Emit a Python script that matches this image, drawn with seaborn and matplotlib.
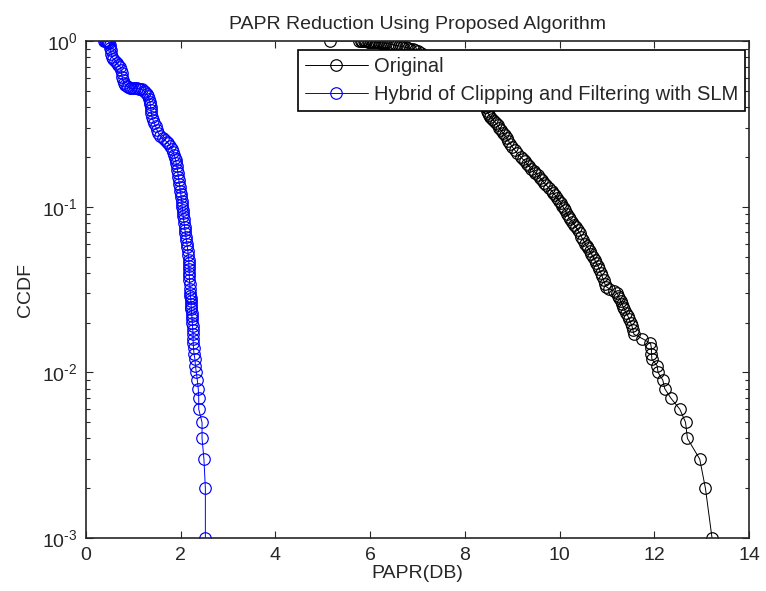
import numpy as np
import pandas as pd
import matplotlib
matplotlib.use("Agg")
import matplotlib.pyplot as plt
import matplotlib.ticker as mticker
import seaborn as sns

# CCDF levels and PAPR (dB) values
orig_ccdf = [1.0, 0.999, 0.998, 0.997, 0.996, 0.995, 0.994, 0.993, 0.992, 0.99,
             0.988, 0.986, 0.984, 0.981, 0.978, 0.975, 0.971, 0.967, 0.963, 0.958,
             0.953, 0.948, 0.942, 0.936, 0.93, 0.923, 0.916, 0.908, 0.90, 0.89,
             0.88, 0.87, 0.85, 0.80, 0.75, 0.70, 0.65, 0.60, 0.55, 0.50,
             0.45, 0.40, 0.38, 0.37, 0.36, 0.35, 0.34, 0.33, 0.32, 0.31,
             0.30, 0.29, 0.28, 0.27, 0.26, 0.25, 0.24, 0.23, 0.22, 0.21,
             0.20, 0.194, 0.188, 0.182, 0.176, 0.170, 0.165, 0.160, 0.155, 0.150,
             0.145, 0.140, 0.135, 0.130, 0.125, 0.121, 0.117, 0.113, 0.109, 0.105,
             0.101, 0.098, 0.095, 0.091, 0.087, 0.084, 0.081, 0.078, 0.075, 0.072,
             0.069, 0.066, 0.063, 0.060, 0.058, 0.056, 0.054, 0.052, 0.050, 0.048,
             0.046, 0.044, 0.042, 0.040, 0.038, 0.036, 0.034, 0.033, 0.032, 0.031,
             0.030, 0.029, 0.028, 0.027, 0.026, 0.025, 0.024, 0.023, 0.022, 0.021,
             0.020, 0.019, 0.018, 0.017, 0.016, 0.015, 0.014, 0.013, 0.012, 0.011,
             0.010, 0.009, 0.008, 0.007, 0.006, 0.005, 0.004, 0.003, 0.002, 0.001]
orig_papr = [5.15, 5.77, 5.80, 5.83, 5.86, 5.89, 5.92, 5.95, 5.98, 6.01,
             6.05, 6.09, 6.13, 6.17, 6.21, 6.25, 6.29, 6.33, 6.37, 6.42,
             6.46, 6.50, 6.55, 6.60, 6.65, 6.70, 6.75, 6.80, 6.85, 6.90,
             6.95, 7.00, 7.08, 7.28, 7.46, 7.62, 7.77, 7.91, 8.04, 8.17,
             8.31, 8.44, 8.46, 8.48, 8.51, 8.54, 8.57, 8.61, 8.65, 8.69,
             8.72, 8.76, 8.80, 8.84, 8.88, 8.92, 8.96, 9.00, 9.05, 9.11,
             9.18, 9.22, 9.27, 9.31, 9.36, 9.40, 9.45, 9.49, 9.54, 9.58,
             9.63, 9.67, 9.72, 9.77, 9.83, 9.87, 9.91, 9.95, 9.99, 10.03,
             10.06, 10.09, 10.12, 10.15, 10.19, 10.23, 10.27, 10.31, 10.35, 10.39,
             10.43, 10.46, 10.50, 10.54, 10.57, 10.61, 10.64, 10.67, 10.71, 10.74,
             10.77, 10.81, 10.84, 10.87, 10.90, 10.93, 10.96, 10.98, 11.05, 11.15,
             11.22, 11.24, 11.26, 11.29, 11.31, 11.34, 11.37, 11.40, 11.44, 11.47,
             11.50, 11.53, 11.55, 11.57, 11.75, 11.92, 11.94, 11.94, 11.95, 12.06,
             12.08, 12.18, 12.22, 12.35, 12.54, 12.66, 12.70, 12.96, 13.08, 13.22]

hybrid_ccdf = [1.0, 0.999, 0.998, 0.997, 0.995, 0.993, 0.99, 0.97, 0.94, 0.91,
               0.88, 0.84, 0.80, 0.78, 0.76, 0.74, 0.72, 0.70, 0.67, 0.64,
               0.61, 0.58, 0.56, 0.545, 0.535, 0.527, 0.521, 0.519, 0.518, 0.518,
               0.518, 0.517, 0.515, 0.51, 0.50, 0.49, 0.48, 0.465, 0.445, 0.43,
               0.415, 0.40, 0.385, 0.37, 0.35, 0.335, 0.32, 0.305, 0.29, 0.277,
               0.268, 0.26, 0.252, 0.245, 0.241, 0.232, 0.223, 0.214, 0.205, 0.198,
               0.191, 0.183, 0.175, 0.167, 0.16, 0.152, 0.145, 0.138, 0.131, 0.125,
               0.119, 0.114, 0.109, 0.104, 0.10, 0.096, 0.092, 0.088, 0.084, 0.080,
               0.076, 0.072, 0.069, 0.066, 0.063, 0.060, 0.057, 0.054, 0.051, 0.048,
               0.046, 0.044, 0.042, 0.040, 0.038, 0.036, 0.034, 0.032, 0.030, 0.029,
               0.028, 0.027, 0.026, 0.025, 0.024, 0.023, 0.022, 0.021, 0.020, 0.019,
               0.018, 0.017, 0.016, 0.015, 0.014, 0.013, 0.012, 0.011, 0.010, 0.009,
               0.008, 0.007, 0.006, 0.005, 0.004, 0.003, 0.002, 0.001]
hybrid_papr = [0.38, 0.40, 0.42, 0.43, 0.45, 0.46, 0.47, 0.49, 0.50, 0.51,
               0.52, 0.53, 0.55, 0.58, 0.62, 0.65, 0.68, 0.72, 0.74, 0.75,
               0.76, 0.78, 0.80, 0.83, 0.86, 0.89, 0.92, 0.95, 0.99, 1.03,
               1.07, 1.11, 1.14, 1.18, 1.22, 1.25, 1.28, 1.31, 1.33, 1.345,
               1.355, 1.365, 1.37, 1.38, 1.39, 1.41, 1.44, 1.47, 1.50, 1.53,
               1.57, 1.62, 1.67, 1.71, 1.74, 1.78, 1.81, 1.84, 1.86, 1.88,
               1.89, 1.905, 1.92, 1.93, 1.94, 1.95, 1.96, 1.97, 1.98, 1.99,
               2.00, 2.01, 2.02, 2.025, 2.03, 2.04, 2.045, 2.05, 2.06, 2.07,
               2.08, 2.09, 2.10, 2.11, 2.12, 2.13, 2.14, 2.15, 2.16, 2.17,
               2.17, 2.17, 2.175, 2.18, 2.18, 2.185, 2.19, 2.195, 2.20, 2.205,
               2.21, 2.215, 2.22, 2.22, 2.225, 2.23, 2.235, 2.24, 2.245, 2.25,
               2.255, 2.26, 2.26, 2.265, 2.27, 2.28, 2.30, 2.31, 2.33, 2.35,
               2.37, 2.38, 2.38, 2.45, 2.45, 2.49, 2.52, 2.52]

orig = pd.DataFrame({"papr": orig_papr, "ccdf": orig_ccdf})
hybrid = pd.DataFrame({"papr": hybrid_papr, "ccdf": hybrid_ccdf})

sns.set_style("ticks")
plt.rcParams["font.family"] = ["Liberation Sans", "DejaVu Sans"]
plt.rcParams["font.size"] = 14
plt.rcParams["mathtext.fontset"] = "custom"
plt.rcParams["mathtext.rm"] = "Liberation Sans"
plt.rcParams["mathtext.it"] = "Liberation Sans"
plt.rcParams["xtick.direction"] = "in"
plt.rcParams["ytick.direction"] = "in"

fig = plt.figure(figsize=(7.66, 5.91), dpi=100)
ax = fig.add_axes([0.1123, 0.0893, 0.8655, 0.8413])

line_kw = dict(marker="o", markersize=8.3, markerfacecolor="none",
               linewidth=0.7, sort=False, estimator=None, ax=ax)
sns.lineplot(data=orig, x="papr", y="ccdf", color="black",
             markeredgecolor="black", markeredgewidth=0.85,
             label="Original", **line_kw)
sns.lineplot(data=hybrid, x="papr", y="ccdf", color="#0000ff",
             markeredgecolor="#0000ff", markeredgewidth=0.85,
             label="Hybrid of Clipping and Filtering with SLM", **line_kw)

ax.set_yscale("log")
ax.set_xlim(0, 14)
ax.set_ylim(1e-3, 1)
ax.set_xticks(np.arange(0, 15, 2))
ax.yaxis.set_major_formatter(mticker.FuncFormatter(
    lambda v, p: r"$10^{\text{-}%d}$" % round(-np.log10(v)) if v < 0.5 else r"$10^{0}$"))
ax.tick_params(which="both", top=True, right=True, labelsize=14, width=0.8)
ax.tick_params(which="major", length=5, pad=6)
ax.tick_params(which="minor", length=3)
for s in ax.spines.values():
    s.set_linewidth(1.2)

ax.set_title("PAPR Reduction Using Proposed Algorithm", fontsize=14, pad=9)
ax.set_xlabel("PAPR(DB)", fontsize=14, labelpad=1)
ax.set_ylabel("CCDF", fontsize=14, labelpad=6)

leg = ax.legend(loc="upper right", bbox_to_anchor=(1 - 4 / 663, 1 - 9 / 497),
                borderaxespad=0, fancybox=False, framealpha=1,
                edgecolor="black", handlelength=3.1, handletextpad=0.3,
                labelspacing=0.45, borderpad=0.35, fontsize=14.5)
leg.get_frame().set_linewidth(1.2)

fig.savefig("out.png", dpi=100)
